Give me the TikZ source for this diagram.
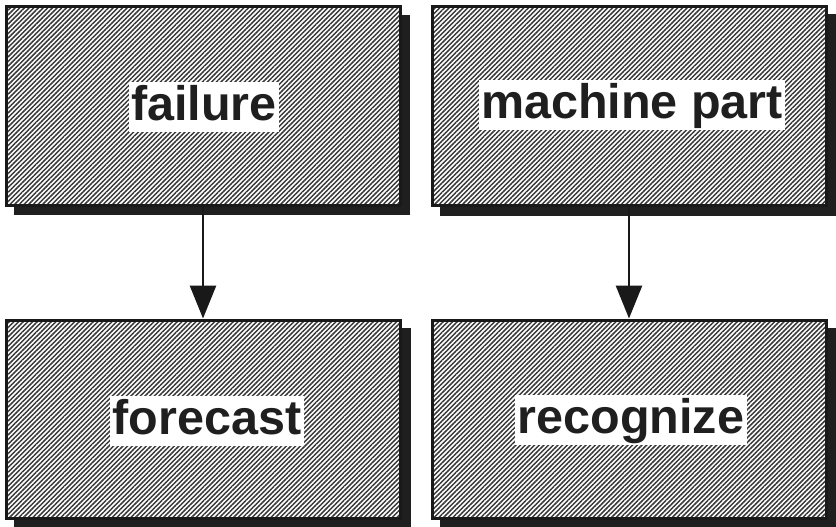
\documentclass[tikz,border=0pt]{standalone}
\usepackage{fontspec}
\setmainfont{Liberation Sans}
\usetikzlibrary{patterns.meta,arrows.meta,backgrounds}

\tikzset{
  hatchbox/.style={draw=black!90, line width=3pt, inner sep=0pt,
    minimum width=394pt, minimum height=198pt,
    preaction={fill=white},
    pattern={Lines[angle=45,distance=3.3pt,line width=1.5pt]},
    pattern color=black!78},
  boxshadow/.style={fill=black!88},
  tag/.style={fill=white, text=black!88, inner xsep=2.5pt, inner ysep=1pt,
    text height=37.5pt, text depth=10pt,
    font=\fontsize{48.5}{52}\selectfont\bfseries},
  link/.style={line width=2.8pt, draw=black!90,
    -{Triangle[width=26pt,length=33pt]}}
}

\begin{document}
\begin{tikzpicture}[x=1pt, y=-1pt]
  \useasboundingbox (0,0) rectangle (836,527);

  % the four hatched boxes
  \node[hatchbox] (b1) at (203,106) {};
  \node[hatchbox] (b2) at (629,106) {};
  \node[hatchbox] (b3) at (203,419) {};
  \node[hatchbox] (b4) at (629,419) {};

  % drop shadows, offset down and to the right
  \begin{scope}[on background layer]
    \fill[white] (0,0) rectangle (836,527);
    \foreach \b in {b1,b2,b3,b4}
      \fill[boxshadow] ([shift={(9,9)}]\b.north west) rectangle ([shift={(9,9)}]\b.south east);
  \end{scope}

  % labels on white plates
  \node[tag] (t1) at ([shift={(1,1)}]b1.center) {failure};
  \node[tag] (t2) at ([shift={(3,-1)}]b2.center) {machine part};
  \node[tag] (t3) at ([shift={(4,2)}]b3.center) {forecast};
  \node[tag] (t4) at ([shift={(2,1)}]b4.center) {recognize};

  % connectors
  \draw[link] (b1.south) -- (b3.north);
  \draw[link] (b2.south) -- (b4.north);
\end{tikzpicture}
\end{document}
